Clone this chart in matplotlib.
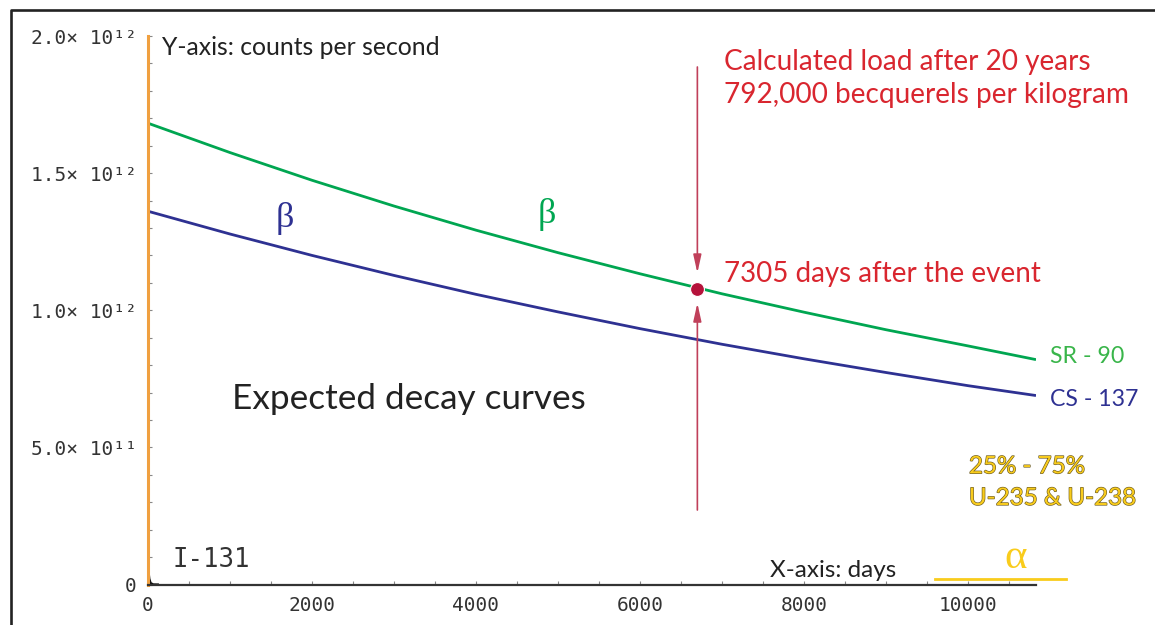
import matplotlib
matplotlib.use("Agg")
import matplotlib.pyplot as plt
from matplotlib.lines import Line2D
import matplotlib.patheffects as pe
from matplotlib.ticker import MultipleLocator

# ---- data -------------------------------------------------------------
days = [0, 1000, 2000, 3000, 4000, 5000, 6000, 7000, 8000, 9000, 10000, 10830]
sr90 = [1.682e12, 1.575e12, 1.474e12, 1.380e12, 1.292e12, 1.210e12,
        1.133e12, 1.060e12, 0.993e12, 0.929e12, 0.870e12, 0.820e12]
cs137 = [1.361e12, 1.278e12, 1.200e12, 1.127e12, 1.058e12, 0.994e12,
         0.933e12, 0.876e12, 0.823e12, 0.773e12, 0.725e12, 0.689e12]

i131_days = [0, 4, 8, 16, 32, 64, 120]
i131 = [0.085e12, 0.060e12, 0.0425e12, 0.021e12, 0.0053e12, 0.0003e12, 0.0]

uranium_days = [9600, 11190]
uranium = [0.02e12, 0.02e12]

event_day = 6700
event_level = 1.078e12

x_ticks = [0, 2000, 4000, 6000, 8000, 10000]
x_tick_labels = ["0", "2000", "4000", "6000", "8000", "10000"]
y_ticks = [0, 0.5e12, 1.0e12, 1.5e12, 2.0e12]
y_tick_labels = ["0", "5.0× 10¹¹", "1.0× 10¹²", "1.5× 10¹²", "2.0× 10¹²"]

# ---- colours ----------------------------------------------------------
GREEN = "#00a651"
GREEN_TXT = "#39b54a"
BLUE = "#2e3192"
RED_TXT = "#d9262f"
ARROW = "#c0405a"
DOT = "#b5123a"
ORANGE = "#f0a040"
YELLOW = "#f9cc1c"
INK = "#222222"

SANS = ["Lato", "DejaVu Sans"]
MONO = ["DejaVu Sans Mono"]
SERIF = ["Liberation Serif", "DejaVu Serif"]

fig = plt.figure(figsize=(11.55, 6.25), dpi=100)
fig.patch.set_facecolor("white")
ax = fig.add_axes([148 / 1155, 40.5 / 625, 888 / 1155, 548.5 / 625])
ax.set_xlim(0, 10830)
ax.set_ylim(0, 2.0e12)
ax.patch.set_alpha(0)

for side in ("top", "right"):
    ax.spines[side].set_visible(False)
ax.spines["left"].set_color(ORANGE)
ax.spines["left"].set_linewidth(2.2)
ax.spines["bottom"].set_color("#333333")
ax.spines["bottom"].set_linewidth(1.6)

ax.set_xticks(x_ticks, labels=x_tick_labels)
ax.set_yticks(y_ticks, labels=y_tick_labels)
ax.xaxis.set_minor_locator(MultipleLocator(500))
ax.yaxis.set_minor_locator(MultipleLocator(1e11))
ax.tick_params(which="both", direction="in", length=3, width=0.8,
               color="#888888")
ax.tick_params(axis="x", pad=8, labelsize=14, labelcolor="#333333")
ax.tick_params(axis="y", pad=8, labelsize=14, labelcolor="#333333")
for lab in ax.get_xticklabels() + ax.get_yticklabels():
    lab.set_family(MONO)

# ---- curves -----------------------------------------------------------
ax.plot(days, sr90, color=GREEN, lw=2.0, solid_capstyle="butt")
ax.plot(days, cs137, color=BLUE, lw=2.0, solid_capstyle="butt")
ax.plot(i131_days, i131, color="#111111", lw=1.6)
ax.plot(uranium_days, uranium, color=YELLOW, lw=2.0, clip_on=False)

# ---- event marker with arrows ----------------------------------------
head = "-|>,head_length=0.9,head_width=0.2"
ax.annotate("", xy=(event_day, 1.136e12), xytext=(event_day, 1.887e12),
            arrowprops=dict(arrowstyle=head, color=ARROW, lw=1.2,
                            shrinkA=0, shrinkB=0, mutation_scale=12))
ax.annotate("", xy=(event_day, 1.026e12), xytext=(event_day, 0.2716e12),
            arrowprops=dict(arrowstyle=head, color=ARROW, lw=1.2,
                            shrinkA=0, shrinkB=0, mutation_scale=12))
ax.plot([event_day], [event_level], "o", color=DOT, ms=10, mec="white",
        mew=0.8, zorder=5)

# ---- labels -----------------------------------------------------------
ax.text(171, 1.931e12, "Y-axis: counts per second", family=SANS,
        fontsize=17.8, color=INK, va="baseline")
ax.text(7024, 1.876e12, "Calculated load after 20 years", family=SANS,
        fontsize=20.2, color=RED_TXT, va="baseline")
ax.text(7024, 1.757e12, "792,000 becquerels per kilogram", family=SANS,
        fontsize=20.2, color=RED_TXT, va="baseline")
ax.text(7024, 1.102e12, "7305 days after the event", family=SANS,
        fontsize=20.0, color=RED_TXT, va="baseline")
ax.text(11000, 0.8066e12, "SR - 90", family=SANS, fontsize=16.7,
        color=GREEN_TXT, va="baseline", clip_on=False)
ax.text(11000, 0.651e12, "CS - 137", family=SANS, fontsize=16.7,
        color=BLUE, va="baseline", clip_on=False)
ax.text(1024, 0.64e12, "Expected decay curves", family=SANS, fontsize=25.3,
        color=INK, va="baseline")
ax.text(7585, 0.0284e12, "X-axis: days", family=SANS, fontsize=17.5,
        color=INK, va="baseline")
ax.text(301, 0.0649e12, "I-131", family=MONO, fontsize=18.5,
        color="#333333", va="baseline")

for txt, yv in (("25% - 75%", 0.4055e12), ("U-235 & U-238", 0.29e12)):
    t = ax.text(10012, yv, txt, family=SANS, fontsize=17.4, color=YELLOW,
                va="baseline", clip_on=False)
    t.set_path_effects([pe.Stroke(linewidth=0.9, foreground="#6b5a20"),
                        pe.Normal()])

ax.text(1671, 1.336e12, "β", family=SERIF, fontsize=26, color=BLUE,
        ha="center", va="center")
ax.text(4866, 1.349e12, "β", family=SERIF, fontsize=26, color=GREEN,
        ha="center", va="center")
ax.text(10585, 0.0602e12, "α", family=SERIF, fontsize=31, color=YELLOW,
        ha="center", va="baseline", clip_on=False)

# ---- outer frame ------------------------------------------------------
fig.add_artist(Line2D([11 / 1155, 11 / 1155, 1.01],
                      [-0.01, 1 - 10 / 625, 1 - 10 / 625],
                      transform=fig.transFigure, color=INK, lw=1.9))

fig.savefig("out.png", dpi=100, facecolor="white")
